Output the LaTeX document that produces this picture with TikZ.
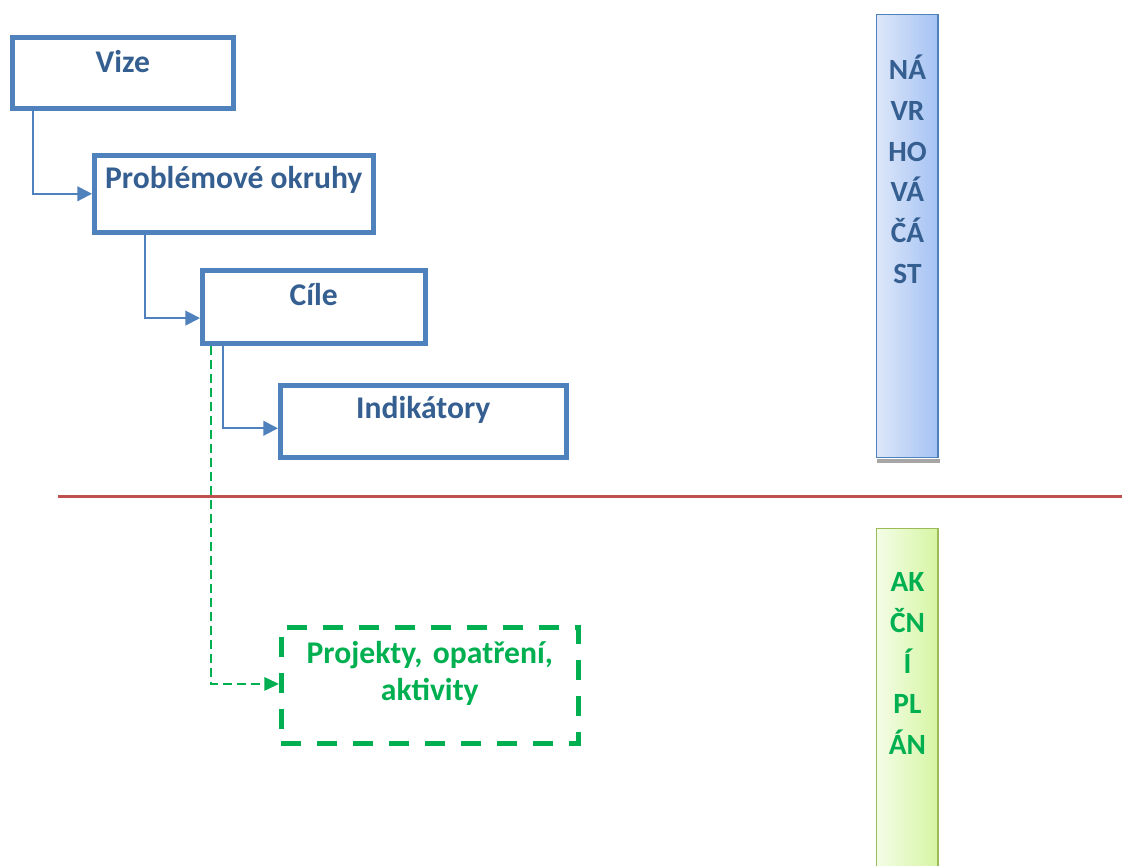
\documentclass[tikz,border=0pt]{standalone}
\usepackage{fontspec}
\setmainfont{Carlito}
\usetikzlibrary{arrows.meta,calc}
\definecolor{boxblue}{HTML}{4F81BD}
\definecolor{txtblue}{HTML}{365F91}
\definecolor{grn}{HTML}{00B050}
\definecolor{redline}{HTML}{C0504D}
\definecolor{barblueL}{HTML}{DDE7F9}
\definecolor{barblueR}{HTML}{A4C2F4}
\definecolor{bargreenL}{HTML}{F3FDE6}
\definecolor{bargreenR}{HTML}{D6F5A3}
\definecolor{bargreenB}{HTML}{9BBB59}
\tikzset{
  stagebox/.style={draw=boxblue, line width=3.4pt, rectangle, inner sep=0pt, anchor=north west,
    font=\fontsize{23.7}{28}\selectfont\bfseries, text=txtblue, align=center},
  actbox/.style={draw=grn, line width=3.4pt, dash pattern=on 15pt off 12pt, rectangle, inner sep=0pt,
    anchor=north west, font=\fontsize{23.7}{27.75}\selectfont\bfseries\frenchspacing, text=grn, align=center},
  conn/.style={draw=boxblue, line width=1.5pt, -{Triangle[length=11pt,width=11pt]}},
  greenconn/.style={draw=grn, line width=1.6pt, dash pattern=on 7pt off 3.5pt, -{Triangle[length=11pt,width=10pt]}},
  sidebar/.style={rectangle, inner sep=0pt, anchor=north west, line width=1.1pt, minimum width=46.1pt,
    text width=46.1pt, align=center, font=\fontsize{22}{30.5}\selectfont\bfseries},
}
\begin{document}
\begin{tikzpicture}[x=0.75pt,y=-0.75pt]
\clip (0,0) rectangle (1122,865);
\fill[white] (0,0) rectangle (1122,865);

% stage boxes
\node[stagebox, minimum width=165.75pt, text height=26.25pt, text depth=27pt] (vize) at (10,35) {Vize};
\node[stagebox, minimum width=209.25pt, text height=24.75pt, text depth=33pt] (prob) at (92,153) {Problémové okruhy};
\node[stagebox, minimum width=167.25pt, text height=26.25pt, text depth=28.5pt] (cile) at (200,268) {Cíle};
\node[stagebox, minimum width=214.5pt, text height=24.75pt, text depth=29.25pt] (ind) at (278,383) {Indikátory};
\node[actbox, minimum width=222.75pt, text width=222.75pt, text height=27pt, text depth=60pt] (proj) at (279,625) {Projekty, opatření,\\aktivity};

% connectors
\draw[conn] ([xshift=17.25pt]vize.south west) |- ([yshift=0pt]prob.west);
\draw[conn] ([xshift=39.75pt]prob.south west) |- ([yshift=-8.5pt]cile.west);
\draw[conn] ([xshift=17.25pt]cile.south west) |- ([yshift=-5.25pt]ind.west);
\draw[greenconn] ([xshift=8.25pt]cile.south west) |- ([yshift=1pt]proj.west);

% red separator
\coordinate (sepL) at (58,496);
\coordinate (sepR) at (1122,496);
\draw[redline, line width=2.25pt] (sepL) -- (sepR);

% side bars
\fill[gray!70] (877,459) rectangle (940,462.5);
\node[sidebar, draw=boxblue, left color=barblueL, right color=barblueR, text=txtblue,
  text height=48.75pt, text depth=283.5pt] (navrh) at (876,14) {NÁ\\VR\\HO\\VÁ\\ČÁ\\ST};
\node[sidebar, draw=bargreenB, left color=bargreenL, right color=bargreenR, text=grn,
  text height=47.25pt, text depth=300pt] (akcni) at (876,528) {AK\\ČN\\Í\\PL\\ÁN};
\end{tikzpicture}
\end{document}
